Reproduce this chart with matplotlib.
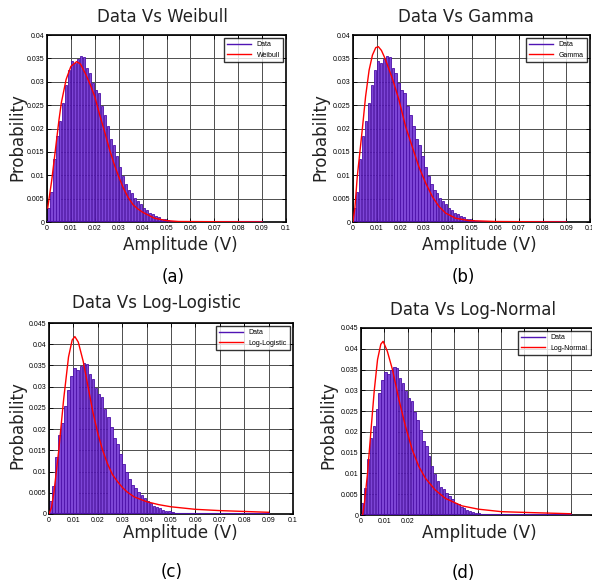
import numpy as np
import matplotlib
matplotlib.use("Agg")
import matplotlib.pyplot as plt
from matplotlib.patches import Rectangle

W, H = 592, 584

##########################################
# histogram of the measured amplitude (bin width 0.00125 V, starting at 0)
bin_width = 0.00125
hist_prob = [0.0030, 0.0065, 0.0135, 0.0185, 0.0215, 0.0255, 0.0293, 0.0325,
             0.0345, 0.0340, 0.0348, 0.0356, 0.0353, 0.0330, 0.0318, 0.0298,
             0.0282, 0.0275, 0.0248, 0.0228, 0.0205, 0.0178, 0.0165, 0.0142,
             0.0118, 0.0098, 0.0082, 0.0068, 0.0062, 0.0052, 0.0045, 0.0038,
             0.0030, 0.0026, 0.0020, 0.0017, 0.0013, 0.0010, 0.0007, 0.0006,
             0.0004, 0.0003, 0.0003, 0.0002, 0.0002, 0.0001, 0.0001, 0.0001,
             0.0001, 0.00005, 0.00005, 0.0001, 0.00005, 0.00005, 0.00005, 0.0,
             0.00005, 0.0, 0.00005, 0.0, 0.0, 0.00005, 0.0, 0.0,
             0.0, 0.00005, 0.0, 0.0, 0.0, 0.0, 0.0, 0.00005]

# fitted curves
weibull_x = [0.0003, 0.002, 0.004, 0.005, 0.006, 0.008, 0.010, 0.0124, 0.014,
             0.015, 0.016, 0.018, 0.020, 0.022, 0.024, 0.026, 0.028, 0.030,
             0.032, 0.034, 0.036, 0.038, 0.040, 0.045, 0.050, 0.055, 0.090]
weibull_y = [0.0030, 0.0090, 0.0175, 0.0218, 0.0255, 0.0305, 0.0333, 0.0343, 0.0338,
             0.0328, 0.0318, 0.0295, 0.0268, 0.0230, 0.0195, 0.0158, 0.0125, 0.0097,
             0.0072, 0.0052, 0.0037, 0.0028, 0.0021, 0.0008, 0.0003, 0.0001, 0.0]

gamma_x = [0.0, 0.0008, 0.0018, 0.0039, 0.0053, 0.0068, 0.0082, 0.0096, 0.0107,
           0.0120, 0.0135, 0.0166, 0.0194, 0.0222, 0.0250, 0.0278, 0.0307, 0.0335,
           0.0363, 0.0391, 0.0433, 0.0489, 0.0602, 0.0900]
gamma_y = [0.0, 0.0030, 0.0097, 0.0197, 0.0268, 0.0325, 0.0357, 0.0373, 0.0375,
           0.0367, 0.0350, 0.0307, 0.0261, 0.0204, 0.0161, 0.0118, 0.0083, 0.0054,
           0.0033, 0.0019, 0.0008, 0.0003, 0.0001, 0.0]

loglogistic_x = [0.0, 0.001, 0.002, 0.004, 0.006, 0.008, 0.0095, 0.0106, 0.012,
                 0.014, 0.016, 0.018, 0.020, 0.022, 0.024, 0.026, 0.028, 0.030,
                 0.032, 0.035, 0.040, 0.045, 0.050, 0.060, 0.070, 0.080, 0.090]
loglogistic_y = [0.0, 0.0015, 0.0050, 0.0150, 0.0270, 0.0370, 0.0410, 0.0418, 0.0405,
                 0.0360, 0.0300, 0.0240, 0.0190, 0.0150, 0.0118, 0.0093, 0.0077, 0.0063,
                 0.0052, 0.0040, 0.0029, 0.0022, 0.0017, 0.0011, 0.0008, 0.0006, 0.0004]

lognormal_x = [0.0007, 0.0015, 0.0028, 0.0043, 0.0057, 0.0071, 0.0085, 0.0095, 0.0113,
               0.0135, 0.0163, 0.0191, 0.0220, 0.0248, 0.0277, 0.0319, 0.0362, 0.0433,
               0.0504, 0.0603, 0.0716, 0.0900]
lognormal_y = [0.0, 0.0030, 0.0100, 0.0205, 0.0300, 0.0374, 0.0411, 0.0418, 0.0394,
               0.0350, 0.0277, 0.0213, 0.0157, 0.0117, 0.0088, 0.0060, 0.0040, 0.0022,
               0.0014, 0.0008, 0.0006, 0.0003]

##########################################
def px_text(x, y, s, size=12, **kw):
    fig.text(x / W, 1 - y / H, s, fontsize=size, ha="center", va="center", **kw)


def make_axes(l, t, r, b):
    return fig.add_axes([l / W, 1 - b / H, (r - l) / W, (b - t) / H])


def draw_panel(ax, fit_x, fit_y, fit_name, ymax, xlabels_shown=None):
    edges = np.arange(len(hist_prob)) * bin_width
    ax.bar(edges, hist_prob, width=bin_width * 0.85, align="edge",
           facecolor="#7d45d6", edgecolor="#4c10a8", linewidth=0.6, zorder=2)
    ax.plot([0, 0.09], [0, 0], color="#4c10a8", lw=1.5, zorder=3)
    ax.plot([], [], color="#5014b4", lw=1.0, label="Data")
    ax.plot(fit_x, fit_y, color="red", lw=1.0, label=fit_name, zorder=4)

    ax.set_xlim(0, 0.1)
    ax.set_ylim(0, ymax)
    xt = np.round(np.arange(0, 0.1001, 0.01), 3)
    yt = np.round(np.arange(0, ymax + 1e-9, 0.005), 3)
    ax.set_xticks(xt)
    ax.set_yticks(yt)
    xl = ["%g" % v for v in xt]
    if xlabels_shown is not None:
        xl = [s if i < xlabels_shown else "" for i, s in enumerate(xl)]
    ax.set_xticklabels(xl)
    ax.set_yticklabels(["%g" % v for v in yt])
    ax.tick_params(direction="in", length=3, width=0.6, labelsize=5, pad=2,
                   top=True, right=True)
    for lab in ax.get_xticklabels() + ax.get_yticklabels():
        lab.set_family("Liberation Sans")
    ax.grid(True, color="#4d4d4d", lw=0.7)
    ax.set_axisbelow(True)
    for sp in ax.spines.values():
        sp.set_linewidth(1.2)
    leg = ax.legend(loc="upper right", fontsize=5, frameon=True, fancybox=False,
                    edgecolor="black", handlelength=3.5, borderpad=0.4,
                    labelspacing=0.5, prop={"family": "Liberation Sans", "size": 5})
    leg.get_frame().set_linewidth(1.0)


##########################################
fig = plt.figure(figsize=(W / 100, H / 100), dpi=100)
plt.rcParams["font.family"] = ["DejaVu Sans"]

ax_a = make_axes(47, 35, 286, 222)
draw_panel(ax_a, weibull_x, weibull_y, "Weibull", 0.04)
ax_b = make_axes(353, 35, 590, 222)
draw_panel(ax_b, gamma_x, gamma_y, "Gamma", 0.04)
ax_c = make_axes(49, 323, 293, 514)
draw_panel(ax_c, loglogistic_x, loglogistic_y, "Log-Logistic", 0.045)
ax_d = make_axes(361, 328, 594, 515)
draw_panel(ax_d, lognormal_x, lognormal_y, "Log-Normal", 0.045, xlabels_shown=3)

# white strip that hides most tick labels under the x label in (c)
fig.patches.append(Rectangle((118 / W, 1 - 531 / H), 180 / W, 9 / H,
                             transform=fig.transFigure, facecolor="white",
                             edgecolor="none", zorder=5))

# titles
px_text(162, 17, "Data Vs Weibull", color="#222222")
px_text(466, 17, "Data Vs Gamma", color="#222222")
px_text(157, 303, "Data Vs Log-Logistic", color="#222222")
px_text(473, 310, "Data Vs Log-Normal", color="#222222")

# axis labels
for x, y in [(180, 245), (479, 245), (180, 533), (479, 533)]:
    px_text(x, y, "Amplitude (V)", color="#222222", zorder=6)
for x, y in [(17, 137), (320, 137), (17, 425), (328, 425)]:
    px_text(x, y, "Probability", rotation=90, color="#222222")

# panel letters
px_text(173, 277, "(a)")
px_text(463, 277, "(b)")
px_text(172, 572, "(c)")
px_text(463, 573, "(d)")

fig.savefig("out.png", dpi=100)
